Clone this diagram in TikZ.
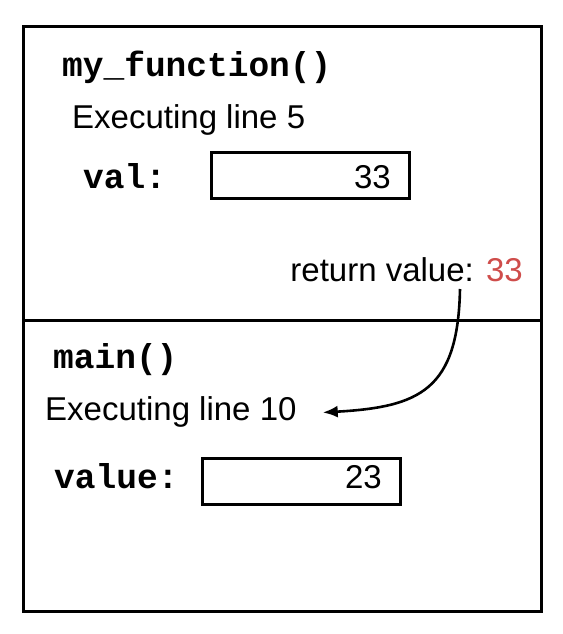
\documentclass[tikz,border=0pt]{standalone}
\usepackage{fontspec}
\setmainfont{Liberation Sans}
\setmonofont{Liberation Mono}
\usetikzlibrary{arrows.meta}
\definecolor{retred}{HTML}{CF4D4B}
\begin{document}
\begin{tikzpicture}[x=1pt,y=-1pt,
  frame/.style={draw,line width=3pt},
  code/.style={anchor=base west,inner sep=0pt,font=\fontsize{34.5}{40}\selectfont\ttfamily\bfseries},
  txt/.style={anchor=base west,inner sep=0pt,font=\fontsize{33}{38}\selectfont},
  valbox/.style={draw,line width=2.8pt,minimum width=198pt,minimum height=46pt,inner sep=0pt},
  num/.style={anchor=base east,inner sep=0pt,font=\fontsize{33}{38}\selectfont},
  conn/.style={line width=2.6pt,-{Latex[length=15pt,width=12pt]}}]
\useasboundingbox (0,0) rectangle (562,634);
% frames
\draw[frame] (23,27) rectangle (541,611);
\draw[frame] (23,320) -- (541,320);
% my_function frame
\node[code] (fn) at (62,76) {my\_function()};
\node[txt] (ex1) at (72,128) {Executing line 5};
\node[code] (val) at (83,188) {val:};
\node[valbox,anchor=north west] (box1) at (210,151) {};
\node[num] (n1) at (391,188) {33};
\node[txt,anchor=base east] (ret) at (523,281) {return value: \textcolor{retred}{33}};
% main frame
\node[code] (mn) at (53,368) {main()};
\node[txt] (ex2) at (45,420) {Executing line 10};
\node[code] (vl) at (54,488) {value:};
\node[valbox,anchor=north west] (box2) at (201,457) {};
\node[num] (n2) at (382,488) {23};
% arrow
\coordinate (as) at (460,289);
\draw[conn] (as) .. controls (458,390) and (420,407) .. ([xshift=26pt,yshift=-1pt]ex2.east);
\end{tikzpicture}
\end{document}
